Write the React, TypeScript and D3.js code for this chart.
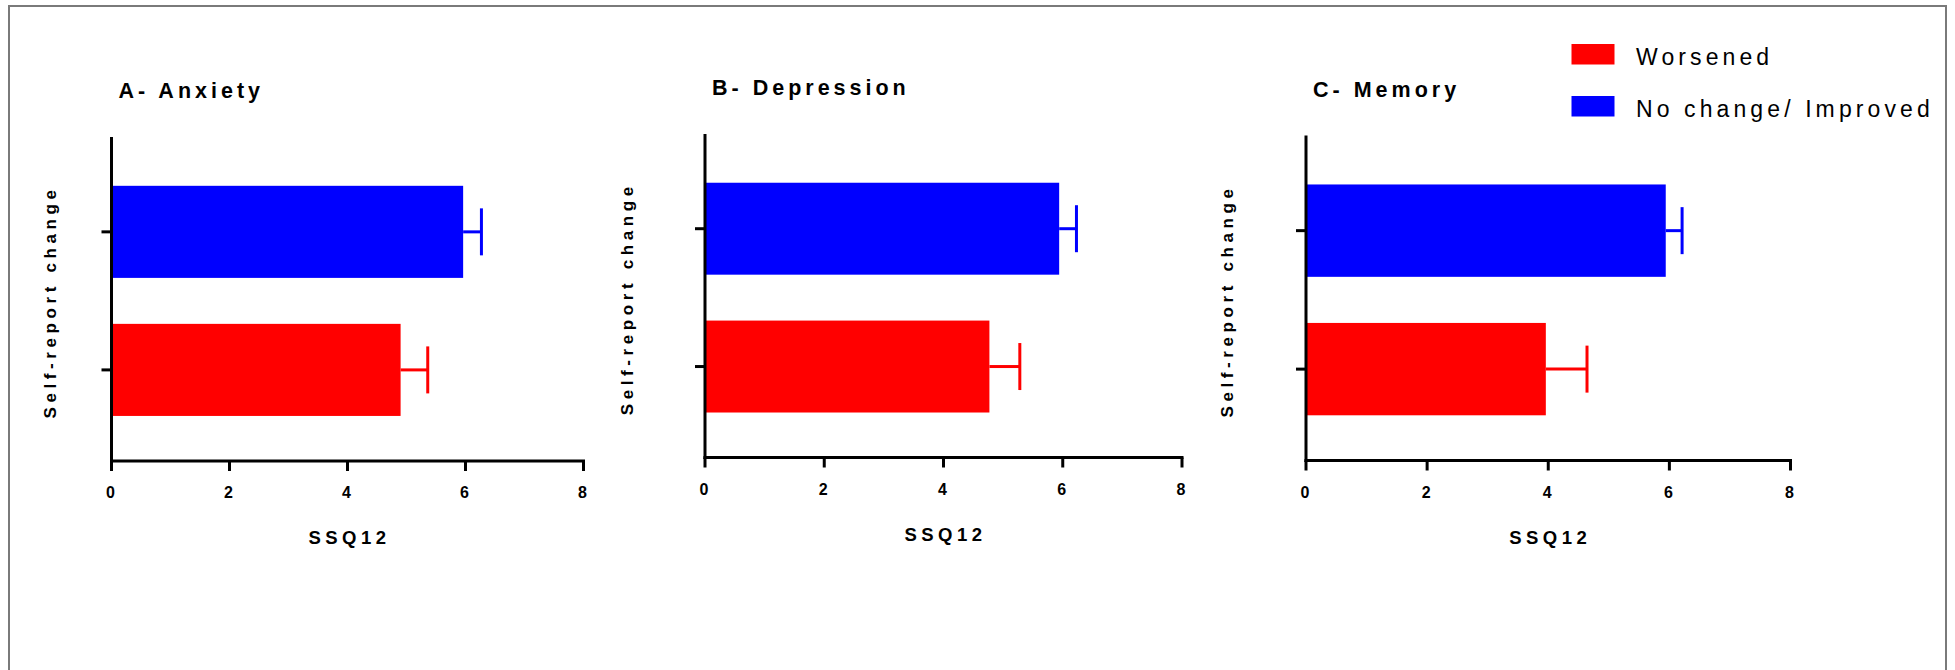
import React from "react";
import * as d3 from "d3";

const categories = ["Worsened", "No change/ Improved"];
const colors = ["#ff0000", "#0000ff"];
const xTicks = [0, 2, 4, 6, 8];

const anxietyMeans = [4.9, 5.96];
const anxietySem = [0.46, 0.31];
const depressionMeans = [4.77, 5.94];
const depressionSem = [0.51, 0.29];
const memoryMeans = [3.96, 5.94];
const memorySem = [0.68, 0.27];

const panelTitles = ["A- Anxiety", "B- Depression", "C- Memory"];
const xTitle = "SSQ12";
const yTitle = "Self-report change";

const FONT = "'Liberation Sans', Arial, sans-serif";

type PanelProps = {
  title: string;
  means: number[];
  sems: number[];
  x0: number;
  x1: number;
  yTop: number;
  yBottom: number;
  yLabelX: number;
};

function Panel({ title, means, sems, x0, x1, yTop, yBottom, yLabelX }: PanelProps) {
  const x = d3.scaleLinear().domain([0, 8]).range([x0, x1]);
  // top band = No change/Improved, bottom = Worsened
  const order = [1, 0];
  const y = d3
    .scaleBand<number>()
    .domain(order)
    .range([yTop, yBottom])
    .paddingInner(0.333)
    .paddingOuter(0.34)
    .align(0.52);
  const bw = y.bandwidth();
  return (
    <g>
      <text
        x={x0 + 7}
        y={yTop - 39}
        fontFamily={FONT}
        fontWeight="bold"
        fontSize={21.5}
        letterSpacing={4}
        fill="#000"
      >
        {title}
      </text>
      {order.map((i) => {
        const yy = y(i)!;
        const cy = yy + bw / 2;
        const xe = x(means[i]);
        const xs = x(means[i] + sems[i]);
        return (
          <g key={i}>
            <rect x={x(0)} y={yy} width={xe - x(0)} height={bw} fill={colors[i]} />
            <line x1={xe} x2={xs} y1={cy} y2={cy} stroke={colors[i]} strokeWidth={3} />
            <line x1={xs} x2={xs} y1={cy - 23.5} y2={cy + 23.5} stroke={colors[i]} strokeWidth={3} />
            <line x1={x(0) - 10} x2={x(0)} y1={cy} y2={cy} stroke="#000" strokeWidth={3} />
          </g>
        );
      })}
      <line x1={x(0)} x2={x(0)} y1={yTop} y2={yBottom + 1.5} stroke="#000" strokeWidth={3} />
      <line x1={x(0) - 1.5} x2={x(8) + 1.5} y1={yBottom} y2={yBottom} stroke="#000" strokeWidth={3} />
      {xTicks.map((t) => (
        <g key={t}>
          <line x1={x(t)} x2={x(t)} y1={yBottom} y2={yBottom + 10} stroke="#000" strokeWidth={3} />
          <text
            x={x(t) - 1}
            y={yBottom + 37}
            textAnchor="middle"
            fontFamily={FONT}
            fontWeight="bold"
            fontSize={16}
            fill="#000"
          >
            {t}
          </text>
        </g>
      ))}
      <text
        x={(x0 + x1) / 2 + 2}
        y={yBottom + 83}
        textAnchor="middle"
        fontFamily={FONT}
        fontWeight="bold"
        fontSize={18.5}
        letterSpacing={4.5}
        fill="#000"
      >
        {xTitle}
      </text>
      <text
        transform={`translate(${yLabelX + 6},${(yTop + yBottom) / 2 + 3}) rotate(-90)`}
        textAnchor="middle"
        fontFamily={FONT}
        fontWeight="bold"
        fontSize={17}
        letterSpacing={4.6}
        fill="#000"
      >
        {yTitle}
      </text>
    </g>
  );
}

export default function App() {
  const panels = [
    { means: anxietyMeans, sems: anxietySem, x0: 111.5, x1: 583.5, yTop: 137, yBottom: 461, yLabelX: 50 },
    { means: depressionMeans, sems: depressionSem, x0: 705, x1: 1182, yTop: 134, yBottom: 457.5, yLabelX: 627 },
    { means: memoryMeans, sems: memorySem, x0: 1306, x1: 1790.5, yTop: 135.5, yBottom: 460.5, yLabelX: 1227 },
  ];
  return (
    <svg
      width={1955}
      height={670}
      style={{ position: "absolute", left: 0, top: 0, background: "#fff" }}
    >
      <rect x={0} y={0} width={1955} height={670} fill="#fff" />
      <rect x={9} y={6} width={1937} height={700} fill="none" stroke="#7a7a7a" strokeWidth={2} />
      {panels.map((p, i) => (
        <Panel key={i} title={panelTitles[i]} {...p} />
      ))}
      <g>
        {categories.map((c, i) => (
          <g key={c}>
            <rect x={1571.5} y={44 + i * 52} width={43} height={20.5} fill={colors[i]} />
            <text
              x={1636}
              y={65 + i * 52}
              fontFamily={FONT}
              fontSize={23}
              letterSpacing={4.1}
              fill="#000"
            >
              {c}
            </text>
          </g>
        ))}
      </g>
    </svg>
  );
}
